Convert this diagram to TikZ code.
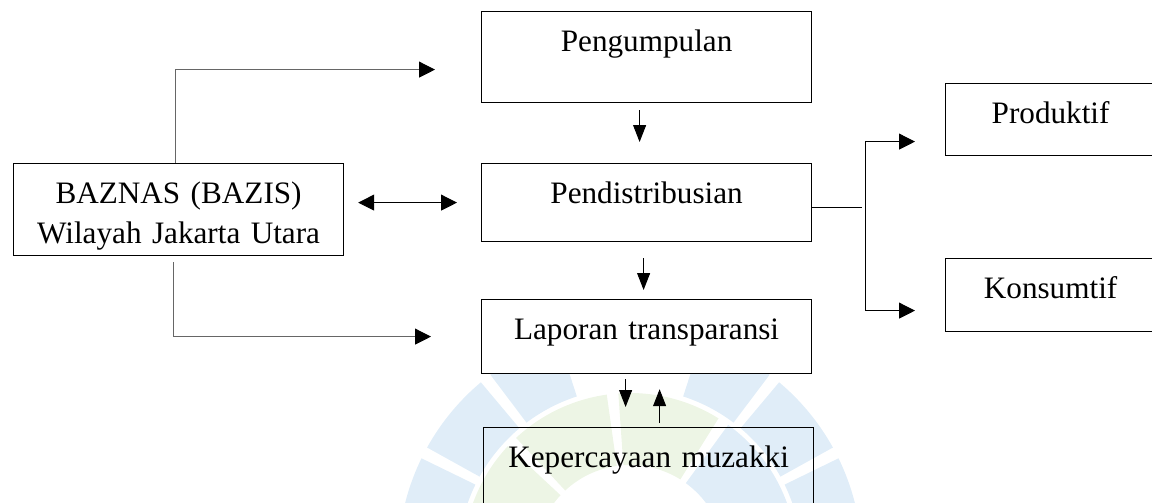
\documentclass[tikz,border=0pt]{standalone}
\usepackage{fontspec}
\setmainfont{Liberation Serif}
\usetikzlibrary{arrows.meta,calc}

\definecolor{wmblue}{RGB}{224,237,248}
\definecolor{wmgreen}{RGB}{237,245,229}

\tikzset{
  box/.style={draw, fill=white, line width=0.6pt, anchor=north west, inner sep=0pt,
    align=center, text height=20pt, font=\fontsize{15.6}{20}\selectfont},
  harr/.style={line width=0.5pt, -{Triangle[length=8pt,width=8pt]}},
  varr/.style={line width=0.5pt, -{Triangle[length=8.5pt,width=6.5pt]}},
  glink/.style={line width=0.5pt, draw=black!60, -{Triangle[length=8pt,width=8pt,black]}}
}

\begin{document}
\begin{tikzpicture}[x=0.5pt,y=-0.5pt]

  % Page frame
  \useasboundingbox (0,0) rectangle (1152,503);
  \clip (0,0) rectangle (1152,503);

  % Watermark behind the chart
  \def\rin{95}
  \def\rmid{172}
  \def\rout{232}
  \begin{scope}[shift={(630,560)}]
    \foreach \a/\b in {186/206, 209/230, 233/252, 288/307, 310/331, 334/354}
      \fill[wmblue] (\a:\rmid) arc[start angle=\a, end angle=\b, radius=\rmid]
        -- (\b:\rout) arc[start angle=\b, end angle=\a, radius=\rout] -- cycle;
    \foreach \a/\b in {190/223, 227/262, 266/302}
      \fill[wmgreen] (\a:\rin) arc[start angle=\a, end angle=\b, radius=\rin]
        -- (\b:\rmid-5) arc[start angle=\b, end angle=\a, radius=\rmid-5] -- cycle;
    \fill[wmblue] (306:\rin) arc[start angle=306, end angle=340, radius=\rin]
      -- (340:\rmid-5) arc[start angle=340, end angle=306, radius=\rmid-5] -- cycle;
  \end{scope}

  % Boxes
  \node[box, text width=165pt, text depth=25.5pt] (peng) at (481,11) {Pengumpulan};
  \node[box, text width=165pt, text depth=19pt] (pend) at (481,163) {Pendistribusian};
  \node[box, text width=165pt, text depth=17pt] (lapo) at (481,299) {Laporan transparansi};
  \node[box, fill=none, text width=165pt, text depth=19pt] (kepe) at (483,427) {Kepercayaan muzakki};
  \node[box, text width=165pt, text depth=26pt] (baznas) at (13,163) {BAZNAS (BAZIS)\\Wilayah Jakarta Utara};
  \node[box, text width=105pt, text depth=16pt] (prod) at (945,83) {Produktif};
  \node[box, text width=105pt, text depth=16.5pt] (kons) at (945,258) {Konsumtif};

  % Links from BAZNAS
  \draw[glink] ([xshift=-1.5pt]baznas.north) |- ([shift={(-23pt,-6.25pt)}]peng.west);
  \draw[glink] ([shift={(-2.5pt,-3pt)}]baznas.south) |- ([xshift=-25pt]lapo.west);
  \draw[line width=0.5pt, {Triangle[length=8pt,width=8pt]}-{Triangle[length=8pt,width=8pt]}]
    ($(baznas.east |- pend.west)+(7pt,0)$) -- ($(pend.west)+(-12pt,0)$);

  % Main column
  \draw[varr] ($(peng.south)+(-3.5pt,-3.5pt)$) -- ($(peng.south |- pend.north)+(-3.5pt,10.5pt)$);
  \draw[varr] ($(pend.south)+(-1.5pt,-8pt)$) -- ($(pend.south |- lapo.north)+(-1.5pt,4.5pt)$);
  \draw[varr] ($(lapo.south)+(-10.5pt,-2.5pt)$) -- ($(lapo.south |- kepe.north)+(-10.5pt,10pt)$);
  \draw[varr] ($(lapo.south |- kepe.north)+(6.5pt,2pt)$) -- ($(lapo.south)+(6.5pt,-7.5pt)$);

  % Split to Produktif / Konsumtif
  \coordinate (ptop) at ([shift={(-40pt,-11pt)}]prod.west);
  \coordinate (pbot) at ([shift={(-40pt,-7.75pt)}]kons.west);
  \draw[line width=0.5pt] ([yshift=-2.5pt]pend.east) -- ++(25pt,0);
  \draw[line width=0.5pt, {Triangle[length=8pt,width=8pt]}-{Triangle[length=8pt,width=8pt]}]
    ([xshift=25pt]ptop) -- (ptop) -- (pbot) -- ([xshift=25pt]pbot);
\end{tikzpicture}
\end{document}
